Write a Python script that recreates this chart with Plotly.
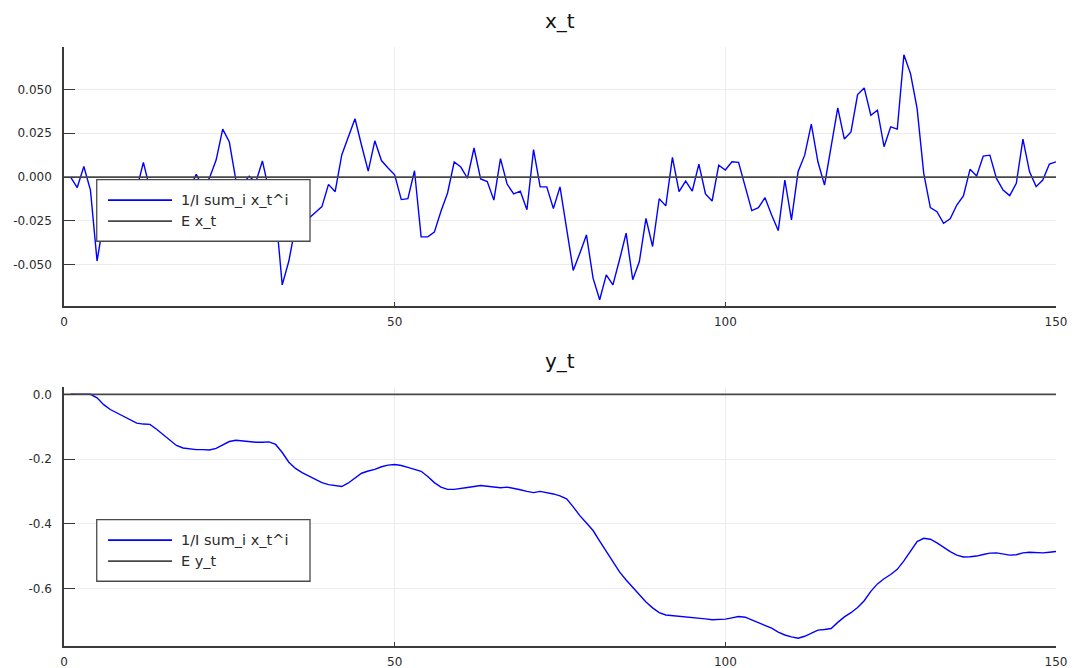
import plotly.graph_objects as go
from plotly.subplots import make_subplots

# time index
t = list(range(1, 151))

# sample average of x_t across paths
x_avg = [
    0.0000, -0.0060, 0.0060, -0.0075, -0.0480, -0.0250, -0.0200, -0.0140, -0.0180, -0.0120,
    -0.0070, 0.0084, -0.0070, -0.0120, -0.0070, -0.0150, -0.0100, -0.0130, -0.0065, 0.0015,
    -0.0060, -0.0005, 0.0097, 0.0274, 0.0200, -0.0020, -0.0040, 0.0005, -0.0030, 0.0092,
    -0.0080, -0.0200, -0.0616, -0.0480, -0.0280, -0.0260, -0.0236, -0.0203, -0.0169, -0.0042,
    -0.0084, 0.0126, 0.0230, 0.0333, 0.0180, 0.0034, 0.0207, 0.0094, 0.0052, 0.0013,
    -0.0129, -0.0124, 0.0036, -0.0342, -0.0342, -0.0315, -0.0196, -0.0091, 0.0086, 0.0057,
    -0.0007, 0.0166, -0.0011, -0.0026, -0.0132, 0.0105, -0.0040, -0.0096, -0.0081, -0.0187,
    0.0157, -0.0056, -0.0056, -0.0180, -0.0056, -0.0293, -0.0534, -0.0435, -0.0331, -0.0578,
    -0.0701, -0.0559, -0.0616, -0.0473, -0.0321, -0.0587, -0.0483, -0.0236, -0.0397, -0.0124,
    -0.0165, 0.0112, -0.0084, -0.0023, -0.0080, 0.0074, -0.0097, -0.0137, 0.0068, 0.0040,
    0.0087, 0.0084, -0.0055, -0.0192, -0.0175, -0.0118, -0.0217, -0.0306, -0.0017, -0.0245,
    0.0030, 0.0125, 0.0302, 0.0087, -0.0046, 0.0182, 0.0395, 0.0217, 0.0258, 0.0471,
    0.0509, 0.0353, 0.0382, 0.0173, 0.0287, 0.0274, 0.0699, 0.0591, 0.0391, 0.0021,
    -0.0175, -0.0198, -0.0264, -0.0239, -0.0160, -0.0108, 0.0044, 0.0006, 0.0120, 0.0125,
    -0.0008, -0.0074, -0.0106, -0.0036, 0.0217, 0.0030, -0.0055, -0.0017, 0.0074, 0.0087,
]

# sample average of y_t across paths
y_avg = [
    0.000, 0.000, 0.000, 0.000, -0.011, -0.032, -0.047, -0.058, -0.068, -0.079,
    -0.089, -0.092, -0.093, -0.108, -0.124, -0.142, -0.158, -0.166, -0.169, -0.171,
    -0.171, -0.172, -0.167, -0.157, -0.146, -0.142, -0.144, -0.148, -0.148, -0.148,
    -0.147, -0.155, -0.180, -0.210, -0.229, -0.242, -0.253, -0.264, -0.273, -0.279,
    -0.283, -0.285, -0.274, -0.259, -0.244, -0.237, -0.232, -0.224, -0.219, -0.217,
    -0.220, -0.226, -0.231, -0.238, -0.254, -0.273, -0.287, -0.294, -0.294, -0.290,
    -0.288, -0.285, -0.282, -0.284, -0.287, -0.289, -0.287, -0.290, -0.295, -0.300,
    -0.304, -0.300, -0.303, -0.308, -0.314, -0.323, -0.348, -0.375, -0.398, -0.421,
    -0.454, -0.487, -0.520, -0.549, -0.574, -0.596, -0.621, -0.642, -0.660, -0.675,
    -0.682, -0.684, -0.684, -0.687, -0.690, -0.690, -0.694, -0.697, -0.697, -0.695,
    -0.691, -0.687, -0.689, -0.697, -0.706, -0.713, -0.723, -0.735, -0.744, -0.750,
    -0.754, -0.748, -0.738, -0.729, -0.727, -0.724, -0.705, -0.688, -0.675, -0.659,
    -0.638, -0.609, -0.586, -0.570, -0.557, -0.541, -0.515, -0.484, -0.455, -0.445,
    -0.448, -0.459, -0.473, -0.486, -0.497, -0.503, -0.502, -0.500, -0.495, -0.491,
    -0.490, -0.493, -0.497, -0.496, -0.490, -0.488, -0.490, -0.490, -0.488, -0.486,
]

# theoretical means (horizontal reference lines)
mean_t = [0, 150]
mean_x = [0.0, 0.0]
mean_y = [0.0, 0.0]

x_ticks = [0, 50, 100, 150]
x_tick_text = ["0", "50", "100", "150"]
top_ticks = [-0.05, -0.025, 0.0, 0.025, 0.05]
top_tick_text = ["-0.050", "-0.025", "0.000", "0.025", "0.050"]
bot_ticks = [-0.6, -0.4, -0.2, 0.0]
bot_tick_text = ["-0.6", "-0.4", "-0.2", "0.0"]

panel_titles = ["x_t", "y_t"]
legend_labels = [["1/I sum_i x_t^i", "E x_t"], ["1/I sum_i x_t^i", "E y_t"]]

BLUE = "#0000ff"
MEAN_COLOR = "#474747"
AXIS_COLOR = "#3a3a3a"
GRID_COLOR = "#ececec"
FONT = "DejaVu Sans"
TEXT_COLOR = "#2b2b2b"

W, H = 1073, 668
ML, MR, MT, MB = 64, 17, 47, 22
PH = H - MT - MB  # plotting height in px

fig = make_subplots(rows=2, cols=1)

fig.add_trace(go.Scatter(x=t, y=x_avg, mode="lines", line=dict(color=BLUE, width=1.4),
                         showlegend=False), row=1, col=1)
fig.add_trace(go.Scatter(x=mean_t, y=mean_x, mode="lines", line=dict(color=MEAN_COLOR, width=1.8),
                         showlegend=False), row=1, col=1)
fig.add_trace(go.Scatter(x=t, y=y_avg, mode="lines", line=dict(color=BLUE, width=1.4),
                         showlegend=False), row=2, col=1)
fig.add_trace(go.Scatter(x=mean_t, y=mean_y, mode="lines", line=dict(color=MEAN_COLOR, width=1.8),
                         showlegend=False), row=2, col=1)

axis_common = dict(showline=True, linecolor=AXIS_COLOR, linewidth=1.5, mirror=False,
                   showgrid=True, gridcolor=GRID_COLOR, gridwidth=1, zeroline=False,
                   automargin=False, ticks="inside", tickcolor=AXIS_COLOR,
                   tickfont=dict(family=FONT, size=12, color=TEXT_COLOR))

for r in (1, 2):
    fig.update_xaxes(range=[0, 150], tickvals=x_ticks, ticktext=x_tick_text, ticklen=4,
                     tickwidth=1.2, ticklabelstandoff=4, **axis_common, row=r, col=1)

fig.update_yaxes(range=[-0.0737, 0.0743], tickvals=top_ticks, ticktext=top_tick_text,
                 ticklen=11, tickwidth=1.2, ticklabelstandoff=8,
                 domain=[(646 - 306) / PH, 1.0], **axis_common, row=1, col=1)
fig.update_yaxes(range=[-0.778, 0.0226], tickvals=bot_ticks, ticktext=bot_tick_text,
                 ticklen=11, tickwidth=1.2, ticklabelstandoff=8,
                 domain=[0.0, (646 - 387) / PH], **axis_common, row=2, col=1)

# legends drawn inside each panel, over the data
shapes = []
annotations = []
for i, (xa, ya) in enumerate([("x", "y"), ("x2", "y2")]):
    xd, yd = xa + " domain", ya + " domain"
    shapes.append(dict(type="rect", xref=xd, yref=yd, x0=0.033, x1=0.248, y0=0.250, y1=0.488,
                       line=dict(color="#4a4a4a", width=1.3), fillcolor="white", layer="above"))
    for j, (yy, col) in enumerate([(0.409, BLUE), (0.328, MEAN_COLOR)]):
        shapes.append(dict(type="line", xref=xd, yref=yd, x0=0.0444, x1=0.1089, y0=yy, y1=yy,
                           line=dict(color=col, width=1.8), layer="above"))
        annotations.append(dict(text=legend_labels[i][j], xref=xd, yref=yd, x=0.116, y=yy,
                                xanchor="left", yanchor="middle", showarrow=False,
                                font=dict(family=FONT, size=14.5, color=TEXT_COLOR)))
    annotations.append(dict(text=panel_titles[i], xref=xd, yref=yd, x=0.5, y=1.0,
                            xanchor="center", yanchor="bottom", yshift=12, showarrow=False,
                            font=dict(family=FONT, size=20, color="#111111")))

fig.update_layout(width=W, height=H, margin=dict(l=ML, r=MR, t=MT, b=MB, autoexpand=False),
                  plot_bgcolor="white", paper_bgcolor="white",
                  shapes=shapes, annotations=annotations, showlegend=False)

fig.write_html("out.html")
